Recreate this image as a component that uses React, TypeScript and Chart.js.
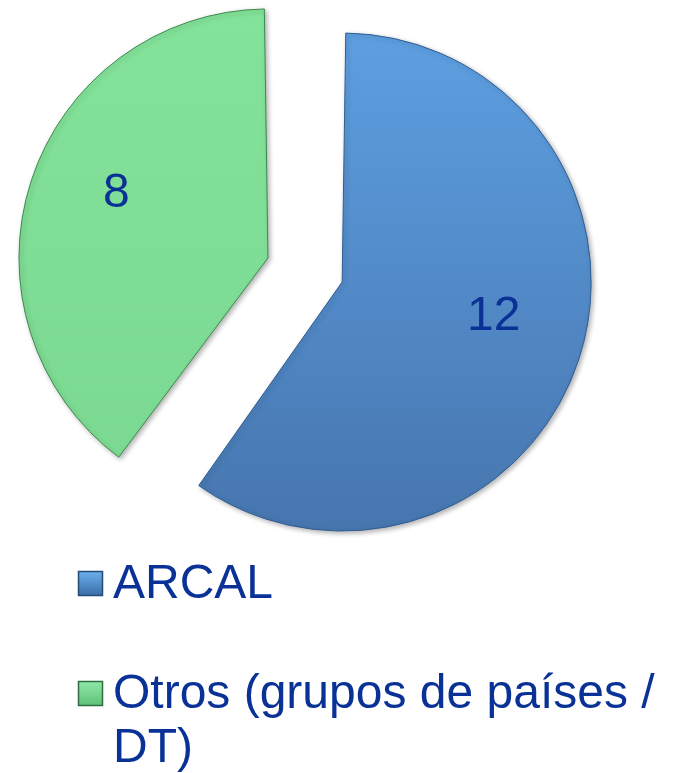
import { useEffect, useRef } from "react";
import { Chart, registerables } from "chart.js";

Chart.register(...registerables);

// ---- data ----
const categories = ["ARCAL", "Otros (grupos de países / DT)"];
const values = [12, 8];

// ---- styles ----
const sliceTop = ["#5EA1E3", "#84E39A"];
const sliceBottom = ["#4675AE", "#7AD890"];
const sliceEdge = ["#2F5D92", "#3A8A4E"];
const swatchTop = ["#6CB0EC", "#92EAA8"];
const swatchBottom = ["#3B6CA6", "#5CC078"];
const swatchEdge = ["#244A78", "#2F6E40"];

const FONT = '"Liberation Sans", Arial, sans-serif';
const TEXT_COLOR = "#0A3296";
const SEPARATION = 78; // px between the two exploded slices' apexes
const FINAL_RADIUS = 249;
const LABEL_FRACTION = 0.64;
const LABEL_DY = -15;

const LEGEND_X_SWATCH = 78;
const LEGEND_X_TEXT = 113;
const LEGEND_FIRST_BASELINE = 598;
const LEGEND_LINE_H = 54;
const LEGEND_ITEM_GAP = 56;
const SWATCH = 25;

function wrapText(ctx: CanvasRenderingContext2D, text: string, maxW: number): string[] {
  const words = text.split(" ");
  const lines: string[] = [];
  let cur = "";
  for (const w of words) {
    const t = cur ? cur + " " + w : w;
    if (ctx.measureText(t).width > maxW && cur) {
      lines.push(cur);
      cur = w;
    } else cur = t;
  }
  if (cur) lines.push(cur);
  return lines;
}

export default function App() {
  const ref = useRef<HTMLCanvasElement>(null);

  useEffect(() => {
    const canvas = ref.current!;
    const total = values.reduce((a, b) => a + b, 0);
    // Chart.js grows an exploded arc's radius by (offset/4)*fix; compensate so all
    // slices end up with the same radius while being pulled apart.
    const fixes = values.map((v) => {
      const circ = (2 * Math.PI * v) / total;
      return 1 - Math.sin(Math.min(Math.PI, circ));
    });
    const k = SEPARATION / fixes.reduce((a, f) => a + 1 / f, 0);
    const shifts = fixes.map((f) => k / f); // translation per slice
    const baseRadius = FINAL_RADIUS - k;

    const slicePlugin = {
      id: "sliceDecor",
      beforeDatasetsDraw(chart: any) {
        const ctx = chart.ctx;
        ctx.save();
        ctx.shadowColor = "rgba(0,0,0,0.30)";
        ctx.shadowBlur = 5;
        ctx.shadowOffsetX = 2;
        ctx.shadowOffsetY = 2;
      },
      afterDatasetsDraw(chart: any) {
        const ctx = chart.ctx;
        ctx.restore();
        const meta = chart.getDatasetMeta(0);
        ctx.save();
        ctx.font = `48px ${FONT}`;
        ctx.fillStyle = TEXT_COLOR;
        ctx.textAlign = "center";
        ctx.textBaseline = "middle";
        meta.data.forEach((arc: any, i: number) => {
          const p = arc.getProps(["x", "y", "startAngle", "endAngle"], true);
          const mid = (p.startAngle + p.endAngle) / 2;
          const d = shifts[i] + LABEL_FRACTION * FINAL_RADIUS;
          ctx.fillText(
            String(values[i]),
            p.x + Math.cos(mid) * d,
            p.y + Math.sin(mid) * d + LABEL_DY
          );
        });
        ctx.restore();
      },
    };

    const legendPlugin = {
      id: "bigLegend",
      afterDraw(chart: any) {
        const ctx: CanvasRenderingContext2D = chart.ctx;
        ctx.save();
        ctx.font = `48px ${FONT}`;
        ctx.textAlign = "left";
        ctx.textBaseline = "alphabetic";
        const maxW = chart.width - LEGEND_X_TEXT - 6;
        let baseline = LEGEND_FIRST_BASELINE;
        categories.forEach((cat, i) => {
          const sy = baseline - 27;
          const g = ctx.createLinearGradient(0, sy, 0, sy + SWATCH);
          g.addColorStop(0, swatchTop[i]);
          g.addColorStop(1, swatchBottom[i]);
          ctx.fillStyle = g;
          ctx.fillRect(LEGEND_X_SWATCH, sy, SWATCH, SWATCH);
          ctx.strokeStyle = swatchEdge[i];
          ctx.lineWidth = 1.5;
          ctx.strokeRect(LEGEND_X_SWATCH + 0.5, sy + 0.5, SWATCH - 1, SWATCH - 1);
          ctx.fillStyle = TEXT_COLOR;
          const lines = wrapText(ctx, cat, maxW);
          lines.forEach((ln, j) => {
            ctx.fillText(ln, LEGEND_X_TEXT, baseline + j * LEGEND_LINE_H);
          });
          baseline += lines.length * LEGEND_LINE_H + LEGEND_ITEM_GAP;
        });
        ctx.restore();
      },
    };

    const chart = new Chart(canvas, {
      type: "pie",
      data: {
        labels: categories,
        datasets: [
          {
            data: values,
            backgroundColor: (c: any) => {
              const i = c.dataIndex;
              if (!c.chart.chartArea) return sliceTop[i];
              const g = c.chart.ctx.createLinearGradient(0, 8, 0, 530);
              g.addColorStop(0, sliceTop[i]);
              g.addColorStop(1, sliceBottom[i]);
              return g;
            },
            borderColor: sliceEdge,
            borderWidth: 1,
            offset: (c: any) => 4 * shifts[c.dataIndex],
            clip: false,
          } as any,
        ],
      },
      options: {
        animation: false,
        responsive: true,
        maintainAspectRatio: false,
        radius: baseRadius,
        layout: { padding: { left: 0, right: 32, top: 0, bottom: 223 } },
        plugins: {
          legend: { display: false },
          tooltip: { enabled: false },
        },
      } as any,
      plugins: [slicePlugin, legendPlugin],
    });

    return () => chart.destroy();
  }, []);

  return (
    <div style={{ position: "absolute", left: 0, top: 0, width: 673, height: 773 }}>
      <canvas ref={ref} />
    </div>
  );
}
